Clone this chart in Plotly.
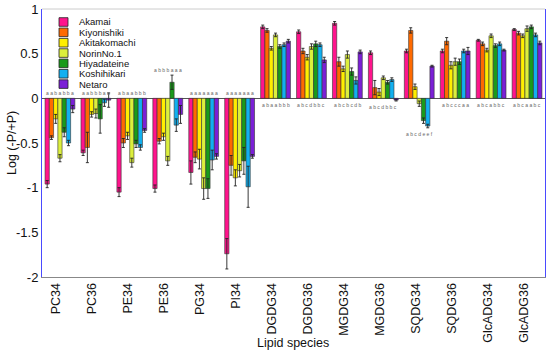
import plotly.graph_objects as go

categories = ["PC34", "PC36", "PE34", "PE36", "PG34", "PI34", "DGDG34", "DGDG36",
              "MGDG34", "MGDG36", "SQDG34", "SQDG36", "GlcADG34", "GlcADG36"]
series_names = ["Akamai", "Kiyonishiki", "Akitakomachi", "NorinNo.1",
                "Hiyadateine", "Koshihikari", "Netaro"]
series_colors = ["#ff148c", "#ff6a00", "#ffee00", "#dcef3c", "#1a9a1a", "#12b0f0", "#7b1fd6"]

akamai = [-0.96, -0.61, -1.05, -1.01, -0.83, -1.74, 0.80, 0.745, 0.84, 0.51, 0.53, 0.53, 0.65, 0.77]
akamai_err = [0.04, 0.03, 0.05, 0.04, 0.13, 0.17, 0.02, 0.02, 0.02, 0.02, 0.02, 0.02, 0.01, 0.01]
kiyonishiki = [-0.44, -0.55, -0.50, -0.48, -0.66, -0.75, 0.76, 0.53, 0.41, 0.12, 0.76, 0.64, 0.61, 0.73]
kiyonishiki_err = [0.02, 0.17, 0.05, 0.03, 0.06, 0.11, 0.02, 0.03, 0.05, 0.08, 0.03, 0.04, 0.02, 0.02]
akitakomachi = [-0.23, -0.18, -0.42, -0.43, -0.68, -0.89, 0.56, 0.46, 0.33, 0.07, 0.13, 0.37, 0.54, 0.70]
akitakomachi_err = [0.05, 0.03, 0.04, 0.04, 0.11, 0.09, 0.02, 0.03, 0.03, 0.04, 0.03, 0.04, 0.02, 0.02]
norin = [-0.67, -0.17, -0.72, -0.70, -1.01, -0.81, 0.71, 0.58, 0.49, 0.23, -0.06, 0.41, 0.70, 0.78]
norin_err = [0.04, 0.05, 0.05, 0.05, 0.12, 0.07, 0.02, 0.03, 0.04, 0.02, 0.03, 0.04, 0.02, 0.03]
hiyadateine = [-0.38, -0.23, -0.51, 0.18, -1.01, -0.70, 0.58, 0.61, 0.30, 0.18, -0.25, 0.41, 0.59, 0.80]
hiyadateine_err = [0.05, 0.16, 0.04, 0.08, 0.11, 0.15, 0.02, 0.03, 0.04, 0.02, 0.03, 0.03, 0.02, 0.02]
koshihikari = [-0.50, -0.05, -0.55, -0.30, -0.69, -0.99, 0.60, 0.60, 0.20, 0.21, -0.31, 0.53, 0.61, 0.71]
koshihikari_err = [0.03, 0.04, 0.03, 0.07, 0.11, 0.23, 0.02, 0.02, 0.04, 0.02, 0.02, 0.02, 0.02, 0.02]
netaro = [-0.12, -0.02, -0.36, -0.18, -0.65, -0.65, 0.64, 0.43, 0.52, -0.02, 0.36, 0.53, 0.54, 0.62]
netaro_err = [0.04, 0.08, 0.02, 0.10, 0.03, 0.02, 0.02, 0.03, 0.02, 0.01, 0.01, 0.04, 0.01, 0.02]

sig_letters = ["a a b a b b a", "a a b b b a a", "a b a a b b b", "a b b b a a a",
               "a a a a a a a", "a a a a a a a", "a b a a b b b", "a b c d b b c",
               "a b c b c d b", "a b c d b b c", "a b c d e e f", "a b c c c a a",
               "a b c a b b c", "a b c a a b c"]

y_tickvals = [-2, -1.5, -1, -0.5, 0, 0.5, 1]
y_ticktext = ["-2", "-1.5", "-1", "-0.5", "0", "0.5", "1"]

values = [akamai, kiyonishiki, akitakomachi, norin, hiyadateine, koshihikari, netaro]
errors = [akamai_err, kiyonishiki_err, akitakomachi_err, norin_err,
          hiyadateine_err, koshihikari_err, netaro_err]

FONT = "Liberation Sans, Arial, Helvetica, sans-serif"
W, H = 550, 357
L, R, T, B = 42, 5, 9, 80
PW, PH = W - L - R, H - T - B

xs = list(range(len(categories)))
fig = go.Figure()
for name, col, v, e in zip(series_names, series_colors, values, errors):
    fig.add_trace(go.Bar(
        x=xs, y=v, name=name, showlegend=False,
        marker=dict(color=col, line=dict(color="#333333", width=0.6)),
        error_y=dict(type="data", array=e, visible=True, color="#222222",
                     thickness=0.9, width=1.5),
    ))

# significance letters
for i, txt in enumerate(sig_letters):
    vals = [values[s][i] for s in range(len(values))]
    errs = [errors[s][i] for s in range(len(values))]
    if sum(1 for v in vals if v < 0) >= 4:
        yv = max([0] + [v + e for v, e in zip(vals, errs) if v > 0]) + 0.055
    else:
        yv = min([0] + [v - e for v, e in zip(vals, errs) if v < 0]) - 0.07
    fig.add_annotation(x=i, y=yv, xref="x", yref="y", text=txt, showarrow=False,
                       font=dict(size=5, color="#666666", family=FONT))

# manual compact legend
def px2paper(px, py):
    return (px - L) / PW, (H - B - py) / PH

row0, step = 22, 10.35
for k, (name, col) in enumerate(zip(series_names, series_colors)):
    cy = row0 + k * step
    x0, y0 = px2paper(59, cy + 4.3)
    x1, y1 = px2paper(68, cy - 4.3)
    fig.add_shape(type="rect", xref="paper", yref="paper", x0=x0, y0=y0, x1=x1, y1=y1,
                  fillcolor=col, line=dict(color="#222222", width=0.8))
    tx, ty = px2paper(77, cy)
    fig.add_annotation(x=tx, y=ty, xref="paper", yref="paper", text=name,
                       showarrow=False, xanchor="left", yanchor="middle",
                       font=dict(size=9.5, color="#111111", family=FONT))

# axis titles
ytx, yty = px2paper(12, (T + H - B) / 2)
fig.add_annotation(x=ytx, y=yty, xref="paper", yref="paper", text="Log (-P/+P)",
                   textangle=-90, showarrow=False, xanchor="center", yanchor="middle",
                   font=dict(size=12.5, color="#111111", family=FONT))
xtx, xty = px2paper(293, 343)
fig.add_annotation(x=xtx, y=xty, xref="paper", yref="paper", text="Lipid species",
                   showarrow=False, xanchor="center", yanchor="middle",
                   font=dict(size=12.5, color="#111111", family=FONT))

# top frame line
fig.add_shape(type="line", xref="paper", yref="paper", x0=0, x1=1, y0=1, y1=1,
              line=dict(color="#cccccc", width=1))

fig.update_layout(
    width=W, height=H,
    margin=dict(l=L, r=R, t=T, b=B, autoexpand=False),
    paper_bgcolor="white", plot_bgcolor="white",
    barmode="group", bargap=0.17, bargroupgap=0,
    font=dict(family=FONT, color="#111111"),
    xaxis=dict(
        automargin=False,
        range=[-0.5, len(categories) - 0.5],
        tickmode="array", tickvals=[i - 0.1 for i in xs], ticktext=categories,
        tickangle=-90, tickfont=dict(size=12.5, family=FONT),
        showgrid=False, zeroline=False, showline=True, linecolor="#888888",
        linewidth=1, ticks="",
    ),
    yaxis=dict(
        automargin=False,
        range=[-2, 1], tickmode="array", tickvals=y_tickvals, ticktext=y_ticktext,
        tickfont=dict(size=13, family=FONT), showgrid=False,
        zeroline=True, zerolinecolor="#555555", zerolinewidth=1,
        showline=True, linecolor="#4a4aff", linewidth=1, mirror=True, ticks="",
    ),
)

fig.write_html("out.html", config={"displayModeBar": False},
               post_script="document.body.style.margin='0';document.body.style.padding='0';")
